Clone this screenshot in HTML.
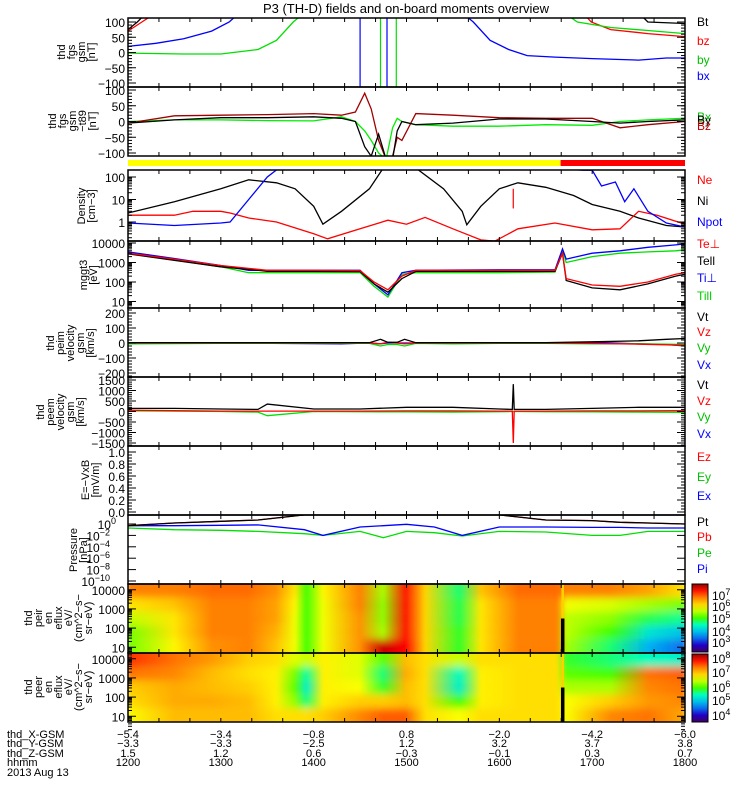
<!DOCTYPE html>
<html><head><meta charset="utf-8">
<style>
html,body{margin:0;padding:0;background:#fff;}
svg{display:block;font-family:"Liberation Sans",sans-serif;}
.tk{font-size:12px;}
.lb{font-size:12px;}
.bt{font-size:11px;}
.yt{font-size:11px;}
</style></head>
<body>
<svg id="chart" width="750" height="800" viewBox="0 0 750 800" xmlns="http://www.w3.org/2000/svg">
<defs id="defs"></defs>
<text x="406" y="13" text-anchor="middle" font-size="13">P3 (TH-D) fields and on-board moments overview</text>
<g id="marks"></g>
<g id="axes"></g>
</svg>
<script>
// ---------- data ----------
const bxT=[12,12.3,12.6,12.9,13.09,13.2];const bxV=[20,30,45,70,100,130];
const bxT2=[15.6,15.72,15.9,16.1,16.3,16.6,17.0,17.5,17.8,18];const bxV2=[130,100,40,10,-10,-15,-20,-25,-18,-18];
const bzT=[12,12.15,12.3];const bzV=[70,100,130];
const bzT2=[16.9,16.99,17.2,17.6,18];const bzV2=[130,100,75,62,52];
const byT=[12,12.6,13.0,13.4,13.6,13.78,13.9];const byV=[-2,-5,-5,10,40,100,130];
const byT2=[16.7,16.84,17.2,17.6,18];const byV2=[130,100,82,72,62];
const btT=[12,12.1,12.2];const btV=[75,100,130];
const btT2=[17.5,17.6,18];const btV2=[130,100,95];
const spikeT=[14.5,14.72,14.79,14.89];const spikeC=['#0000ff','#00e000','#0000ff','#00e000'];

const b2T=[12,12.5,13,13.5,14.0,14.3,14.45,14.55,14.62,14.7,14.78,14.85,14.9,14.95,15.1,15.5,16,16.5,17,17.3,17.6,18];
const b2Bx=[-5,5,12,12,15,10,0,-80,-110,-40,-120,-120,-30,0,-10,-5,8,8,0,-5,0,5];
const b2Bz=[-5,18,20,22,25,20,30,90,40,-60,-120,-110,-50,-60,25,20,12,10,10,-20,-10,0];
const b2By=[0,5,5,3,2,15,0,-30,-60,-100,-120,-20,10,0,-10,-15,-15,-10,-12,0,5,10];

const nT=[12,12.5,13,13.3,13.6,13.8,14.0,14.1,14.3,14.6,14.75,15.1,15.4,15.6,15.65,15.8,16,16.2,16.5,16.8,17,17.3,17.5,17.8,18];
const neV=[2.5,8,30,75,55,30,5,0.8,3,30,250,250,30,3,0.75,5,30,55,35,15,6,3,1.5,0.7,0.6];
const niT=[12,12.5,12.7,13.0,13.1,13.3,13.6,14.0,14.15,14.5,14.8,15.0,15.2,15.5,15.8,15.95,16.2,16.6,17.0,17.3,17.5,17.7,18];
const niV=[2,2,3,3,2.5,1.5,1.0,0.3,0.18,0.5,1.2,0.8,1.6,0.5,0.16,0.14,0.5,0.9,0.45,0.5,3,2,0.8];
const npT=[12,12.5,13.0,13.1,13.3,13.5,13.65];const npV=[0.9,0.7,0.9,1,10,100,300];
const npT2=[16.3,16.9,17.0,17.1,17.25,17.35,17.45,17.6,17.8,18];const npV2=[300,200,200,40,60,8,30,3,0.9,0.6];

const tT=[12,12.5,13,13.3,13.5,14.0,14.5,14.65,14.8,14.95,15.1,16.0,16.6,16.68,16.72,17.0,17.3,17.6,17.9,18];
const teP=[3000,1500,700,500,400,400,380,100,40,200,400,400,400,3000,150,70,60,100,250,300];
const teL=[2800,1300,600,450,350,350,340,80,30,150,350,350,350,3000,120,50,40,80,200,250];
const tiP=[3500,1600,700,400,400,400,400,80,22,300,400,420,420,5000,1500,3000,4000,6000,8000,9000];
const tiL=[3000,1400,600,300,300,300,300,60,17,250,300,300,320,4500,1000,2000,3000,3500,4000,4500];

const vT=[12,13,14.3,14.6,14.72,14.8,14.9,14.98,15.1,15.5,16,16.5,17,17.5,17.8,18];
const vtV=[3,2,2,2,25,5,5,25,2,3,2,2,8,15,25,30];
const vzV=[0,0,0,0,-5,5,0,-5,0,0,0,0,-3,-8,-12,-15];
const vyV=[-5,-3,-3,-3,-20,-10,-10,-20,-3,-5,-3,-3,-5,-5,-8,-10];
const vxV=[0,0,-5,0,-5,0,0,0,0,0,0,0,5,-5,-10,-20];
const pmT=[12,12.5,13,13.4,13.5,14,14.5,15,15.5,16,16.14,16.15,16.16,16.5,17,17.5,18];
const pmVt=[150,150,120,100,350,120,120,200,200,120,100,1300,100,100,150,200,200];
const pmVz=[60,40,20,20,20,20,20,30,30,20,20,-1500,20,20,30,30,40];
const pmVy=[30,20,0,-30,-200,0,-10,-20,-30,-10,0,0,0,-10,-20,-30,-40];

const prT=[12,12.5,13,13.4,13.9,14.1,14.5,14.75,15.0,15.3,15.6,16.0,16.5,17.0,17.3,17.6,18];
const prPi=[0.5,0.5,0.6,0.7,0.1,0.01,0.3,0.5,0.9,0.3,0.01,0.3,0.3,0.25,0.25,0.2,0.2];
const prPe=[0.2,0.1,0.08,0.05,0.02,0.01,0.05,0.004,0.05,0.03,0.008,0.05,0.04,0.01,0.01,0.05,0.05];
const prPt=[0.5,1.5,3,5,40,40,40,40,40,40,40,40,5,4,2,1.5,1];

const spT=[12,12.5,12.9,13.3,13.6,13.8,13.92,14.1,14.5,14.75,14.99,15.2,15.57,15.8,16.2,16.62,16.72,17.2,17.6,18];
const ionV=[[6.6,6.0,5.6,5.3,5.3],[6.6,6.2,6.0,6.0,5.9],[6.7,6.6,6.6,6.6,6.5],[6.7,6.6,6.6,6.6,6.6],[6.5,6.4,6.4,6.3,6.2],[6.0,5.9,5.8,5.8,5.8],[5.1,5.1,5.1,5.1,5.1],[5.9,5.8,5.8,5.8,5.8],[6.6,6.6,6.5,6.5,6.5],[5.5,5.4,5.4,5.5,7.4],[7.1,7.1,7.1,7.1,7.2],[6.1,6.1,6.1,6.1,6.1],[4.8,4.9,4.9,5.0,5.0],[6.2,6.0,6.0,6.0,6.0],[6.7,6.6,6.6,6.6,6.6],[6.7,6.6,6.6,6.6,6.6],[6.6,5.8,5.6,5.6,5.5],[6.6,5.7,5.4,5.1,4.8],[6.4,5.5,4.9,4.4,4.0],[6.0,5.3,4.7,4.1,3.6]];
const eleV=[[7.7,7.4,6.9,6.8,6.6],[7.4,7.3,7.1,7.1,7.0],[7.2,7.0,7.0,7.1,7.0],[6.9,6.8,6.9,7.0,7.0],[6.8,6.7,6.7,6.7,6.8],[6.5,6.1,6.0,6.2,6.8],[6.4,5.5,5.3,5.6,6.8],[6.7,6.7,6.7,6.7,6.9],[6.5,6.5,6.6,6.9,7.3],[6.0,5.6,5.8,6.9,7.5],[7.0,7.1,7.0,7.0,7.5],[6.8,6.8,6.8,6.8,6.8],[6.4,5.4,5.3,5.9,6.6],[6.8,6.7,6.7,6.7,6.8],[6.8,6.8,6.8,6.8,6.8],[6.8,6.8,6.8,6.8,6.8],[5.8,6.0,6.3,6.6,6.6],[5.6,5.9,6.3,6.9,7.3],[5.4,7.4,7.3,7.2,7.4],[5.3,7.5,7.4,7.3,7.1]];

const xLabX=['-5.4','-3.4','-0.8','0.8','-2.0','-4.2','-6.0'];
const xLabY=['-3.3','-3.3','-2.5','1.2','3.2','3.7','3.8'];
const xLabZ=['1.5','1.2','0.6','-0.3','-0.1','0.3','0.7'];
const xLabH=['1200','1300','1400','1500','1600','1700','1800'];

// ---------- helpers ----------
const NS='http://www.w3.org/2000/svg';
const marks=document.getElementById('marks'),axes=document.getElementById('axes'),defs=document.getElementById('defs');
const X0=128,X1=685;
function xOf(t){return X0+(t-12)/6*(X1-X0);}
function lin(v0,y0,v1,y1){return v=>y0+(v-v0)/(v1-v0)*(y1-y0);}
function lg(v0,y0,v1,y1){return v=>y0+(Math.log10(v)-Math.log10(v0))/(Math.log10(v1)-Math.log10(v0))*(y1-y0);}
function mk(tag,at,parent){const e=document.createElementNS(NS,tag);for(const k in at)e.setAttribute(k,at[k]);(parent||marks).appendChild(e);return e;}
let clipN=0;
function clip(y0,y1){const id='c'+(clipN++);const cp=mk('clipPath',{id:id},defs);mk('rect',{x:X0,y:y0,width:X1-X0,height:y1-y0},cp);return 'url(#'+id+')';}
function line(ts,vs,ys,color,cl,name){
  const p=mk('polyline',{points:ts.map((t,i)=>xOf(t).toFixed(1)+','+ys(vs[i]).toFixed(1)).join(' '),fill:'none',stroke:color,'stroke-width':1.3,'clip-path':cl});
  
  
}
function text(x,y,s,o){const e=mk('text',Object.assign({x:x,y:y},o||{}),axes);e.textContent=s;return e;}
const panels=[[18,87],[87,156],[170,241],[241,308],[308,377],[377,446],[446,515],[515,584],[584,653],[653,722]];
const names=['fgs-gsm-panel','fgs-gsm-t89-panel','density-panel','temperature-panel','peim-velocity-panel','peem-velocity-panel','efield-panel','pressure-panel','ion-spectrogram-panel','electron-spectrogram-panel'];

// ---------- panel 1 ----------
const y1=lin(100,22,-100,83);const c1=clip(18,87);
line(bxT,bxV,y1,'#0000ff',c1,'bx-line');line(bxT2,bxV2,y1,'#0000ff',c1,'bx-line-2');
line(bzT,bzV,y1,'#ff0000',c1,'bz-line');line(bzT2,bzV2,y1,'#ff0000',c1,'bz-line-2');
line(byT,byV,y1,'#00e000',c1,'by-line');line(byT2,byV2,y1,'#00e000',c1,'by-line-2');
line(btT,btV,y1,'#000',c1,'bt-line');line(btT2,btV2,y1,'#000',c1,'bt-line-2');
spikeT.forEach((t,i)=>{const s=mk('line',{x1:xOf(t),x2:xOf(t),y1:18,y2:87,stroke:spikeC[i],'stroke-width':1.2});
 
 });
// ---------- panel 2 ----------
const y2=lin(100,90,-100,153);const c2=clip(87,156);
line(b2T,b2By,y2,'#00ee00',c2,'by-t89-line');line(b2T,b2Bz,y2,'#a00000',c2,'bz-t89-line');line(b2T,b2Bx,y2,'#000',c2,'bx-t89-line');
// mode bar
const yb=mk('rect',{x:X0,y:160,width:xOf(16.66)-X0,height:6,fill:'#ffff00'});
const rb=mk('rect',{x:xOf(16.66),y:160,width:X1-xOf(16.66),height:6,fill:'#ff0000'});
// ---------- panel 3 ----------
const y3=lg(100,177,1,222);const c3=clip(170,241);
line(nT,neV,y3,'#000',c3,'ne-line');line(niT,niV,y3,'#ff0000',c3,'ni-line');
line(npT,npV,y3,'#0000ff',c3,'npot-line');line(npT2,npV2,y3,'#0000ff',c3,'npot-line-2');
const rs=mk('line',{x1:xOf(16.15),x2:xOf(16.15),y1:y3(30),y2:y3(4),stroke:'#ff0000','stroke-width':1.2});
// ---------- panel 4 ----------
const y4=lg(10000,243,10,301.5);const c4=clip(241,308);
line(tT,tiL,y4,'#00e000',c4,'ti-par-line');line(tT,tiP,y4,'#0000ff',c4,'ti-perp-line');line(tT,teL,y4,'#000',c4,'te-par-line');line(tT,teP,y4,'#ff0000',c4,'te-perp-line');
// ---------- panel 5 ----------
const y5=lin(200,313,-200,373);const c5=clip(308,377);
line(vT,vxV,y5,'#0000ff',c5,'vx-i-line');line(vT,vyV,y5,'#00e000',c5,'vy-i-line');line(vT,vzV,y5,'#ff0000',c5,'vz-i-line');line(vT,vtV,y5,'#000',c5,'vt-i-line');
// ---------- panel 6 ----------
const y6=lin(1500,380,-1500,443);const c6=clip(377,446);
line(pmT,pmVy,y6,'#00e000',c6,'vy-e-line');line(pmT,pmVz,y6,'#ff0000',c6,'vz-e-line');line(pmT,pmVt,y6,'#000',c6,'vt-e-line');
// ---------- panel 8 ----------
const y8=lg(1,524,1e-10,581);const c8=clip(515,584);
line(prT,prPe,y8,'#00e000',c8,'pe-line');line(prT,prPi,y8,'#0000ff',c8,'pi-line');line(prT,prPt,y8,'#ff0000',c8,'pb-line');line(prT,prPt,y8,'#000',c8,'pt-line');

// ---------- spectrograms ----------
const cmap=[[0,[64,0,96]],[0.1,[32,0,200]],[0.25,[0,160,255]],[0.4,[0,255,190]],[0.5,[64,255,0]],[0.65,[255,255,0]],[0.8,[255,128,0]],[0.92,[255,0,0]],[1,[150,0,0]]];
function col(f){f=Math.max(0,Math.min(1,f));for(let i=1;i<cmap.length;i++){if(f<=cmap[i][0]){const a=cmap[i-1],b=cmap[i],u=(f-a[0])/(b[0]-a[0]);return 'rgb('+a[1].map((c,k)=>Math.round(c+(b[1][k]-c)*u)).join(',')+')';}}return 'rgb(150,0,0)';}
let gN=0;
const blur=mk('filter',{id:'vblur',x:'-0.05',y:'-0.2',width:'1.1',height:'1.4'},defs);mk('feGaussianBlur',{stdDeviation:'1.5 4'},blur);
function spec(vals,y0,y1,lo,hi,name){
  const cl=clip(y0,y1);const outer=mk('g',{'clip-path':cl});
  
  
  const g=mk('g',{filter:'url(#vblur)'},outer);
  const nb=vals[0].length,h=(y1-y0)/nb;
  for(let b=0;b<nb;b++){
    for(let i=0;i<spT.length-1;i++){
      const id='g'+(gN++);const lgr=mk('linearGradient',{id:id},defs);
      mk('stop',{offset:0,'stop-color':col((vals[i][b]-lo)/(hi-lo))},lgr);
      mk('stop',{offset:1,'stop-color':col((vals[i+1][b]-lo)/(hi-lo))},lgr);
      const ya=b==0?y0-8:y0+b*h, yb2=b==nb-1?y1+8:y0+(b+1)*h;
      mk('rect',{x:xOf(spT[i])-0.3,y:ya,width:xOf(spT[i+1])-xOf(spT[i])+0.6,height:yb2-ya,fill:'url(#'+id+')'},g);
    }
  }
  const bar=mk('rect',{x:xOf(16.68)-1.5,y:y0+(y1-y0)*0.5,width:3.5,height:(y1-y0)*0.5,fill:'#000'},outer);
  
  
  mk('rect',{x:xOf(16.68)-1,y:y0,width:2.5,height:(y1-y0)*0.5,fill:'#ffd000'},outer);
}
spec(ionV,584,653,2.6,7.6,'ion-energy-flux-spectrogram');
spec(eleV,653,722,3.5,8.3,'electron-energy-flux-spectrogram');
// colorbars
function cbar(y0,y1,name){const id='cb'+(gN++);const lgr=mk('linearGradient',{id:id,x1:0,y1:1,x2:0,y2:0},defs);
 for(let i=0;i<=10;i++)mk('stop',{offset:i/10,'stop-color':col(i/10)},lgr);
 const r=mk('rect',{x:692,y:y0,width:16,height:y1-y0,fill:'url(#'+id+')',stroke:'#000','stroke-width':1},axes);
 }
cbar(584,652,'ion-colorbar');cbar(654,722,'electron-colorbar');
[[7,595],[6,606],[5,618],[4,631],[3,642]].forEach(a=>{const t=text(712,a[1]+5,'10',{class:'tk'});const s=mk('tspan',{dy:-5,'font-size':9},t);s.textContent=a[0];});
[[8,658],[7,672],[6,687],[5,700],[4,715]].forEach(a=>{const t=text(712,a[1]+5,'10',{class:'tk'});const s=mk('tspan',{dy:-5,'font-size':9},t);s.textContent=a[0];});

// ---------- axes frames & ticks ----------
panels.forEach((p,i)=>{const r=mk('rect',{x:X0,y:p[0],width:X1-X0,height:p[1]-p[0],fill:'none',stroke:'#000','stroke-width':1.5},axes);
 
 for(let t=12;t<=18.001;t+=1/3){const x=xOf(t);mk('line',{x1:x,x2:x,y1:p[0],y2:p[0]+4,stroke:'#000'},axes);mk('line',{x1:x,x2:x,y1:p[1],y2:p[1]-4,stroke:'#000'},axes);}
});
function yt(ys,vals,labels,minor){vals.forEach((v,i)=>{const y=ys(v);mk('line',{x1:X0,x2:X0+8,y1:y,y2:y,stroke:'#000'},axes);mk('line',{x1:X1,x2:X1-8,y1:y,y2:y,stroke:'#000'},axes);
 text(X0-3,y+5,labels[i],{class:'tk','text-anchor':'end'});});
 (minor||[]).forEach(v=>{const y=ys(v);mk('line',{x1:X0,x2:X0+4,y1:y,y2:y,stroke:'#000'},axes);mk('line',{x1:X1,x2:X1-4,y1:y,y2:y,stroke:'#000'},axes);});}
const m1=[];for(let v=-100;v<=100;v+=10)m1.push(v);
yt(y1,[100,50,0,-50,-100],['100','50','0','\u221250','\u2212100'],m1);
yt(y2,[100,50,0,-50,-100],['100','50','0','\u221250','\u2212100'],m1);
const dm=[];[0.1,1,10,100].forEach(d=>{for(let k=2;k<10;k++)dm.push(d*k);});
yt(y3,[100,10,1],['100','10','1'],dm.filter(v=>v>0.14&&v<200));
const tm=[];[1,10,100,1000].forEach(d=>{for(let k=2;k<10;k++)tm.push(d*k);});
yt(y4,[10000,1000,100,10],['10000','1000','100','10'],tm.filter(v=>v>5));
const m5=[];for(let v=-220;v<=220;v+=20)m5.push(v);
yt(y5,[200,100,0,-100,-200],['200','100','0','\u2212100','\u2212200'],m5);
const m6=[];for(let v=-1600;v<=1600;v+=100)m6.push(v);
yt(y6,[1500,1000,500,0,-500,-1000,-1500],['1500','1000','500','0','\u2212500','\u22121000','\u22121500'],m6);
const y7=lin(1,452,0,512);const m7=[];for(let v=0;v<=1.0001;v+=0.05)m7.push(v);
yt(y7,[1,0.8,0.6,0.4,0.2,0],['1.0','0.8','0.6','0.4','0.2','0.0'],m7);
[[0,1],[-2,1e-2],[-4,1e-4],[-6,1e-6],[-8,1e-8],[-10,1e-10]].forEach(a=>{const y=y8(a[1]);mk('line',{x1:X0,x2:X0+8,y1:y,y2:y,stroke:'#000'},axes);mk('line',{x1:X1,x2:X1-8,y1:y,y2:y,stroke:'#000'},axes);
 const t=text(a[0]==0?X0-12:X0-18,y+5,'10',{class:'tk','text-anchor':'end'});const s=mk('tspan',{dy:-5,'font-size':9},t);s.textContent=a[0]==0?'0':'\u2212'+(-a[0]);});
const ys9=lin(4.3,584,0.7,653),ys10=lin(4.3,653,0.7,722);
[[ys9,[4,3,2,1]],[ys10,[4,3,2,1]]].forEach(a=>{const ys=a[0];a[1].forEach(e=>{const y=ys(e);mk('line',{x1:X0,x2:X0+8,y1:y,y2:y,stroke:'#000'},axes);mk('line',{x1:X1,x2:X1-8,y1:y,y2:y,stroke:'#000'},axes);text(X0-3,y+5,String(Math.pow(10,e)),{class:'tk','text-anchor':'end'});
 for(let k=2;k<10;k++){const yy=ys(e-1+Math.log10(k));mk('line',{x1:X0,x2:X0+4,y1:yy,y2:yy,stroke:'#000'},axes);mk('line',{x1:X1,x2:X1-4,y1:yy,y2:yy,stroke:'#000'},axes);}});});

// ---------- y titles ----------
function ytitle(cx,cy,lines,name){const g=mk('g',{transform:'translate('+cx+','+cy+') rotate(-90)'},axes);
 const n=lines.length;lines.forEach((s,i)=>{const t=mk('text',{x:0,y:(i-(n-1)/2)*10+4,'text-anchor':'middle',class:'yt'},g);t.textContent=s;});}
ytitle(76,52,['thd','fgs','gsm','[nT]'],'fgs-y-title');
ytitle(72,121,['thd','fgs','gsm','\u2212t89','[nT]'],'fgs-t89-y-title');
ytitle(86,206,['Density','[cm\u22123]'],'density-y-title');
ytitle(88,275,['mggt3','[eV]'],'temperature-y-title');
ytitle(70,343,['thd','peim','velocity','gsm','[km/s]'],'peim-velocity-y-title');
ytitle(60,412,['thd','peem','velocity','gsm','[km/s]'],'peem-velocity-y-title');
ytitle(90,480,['E=\u2212VxB','[mV/m]'],'efield-y-title');
ytitle(78,550,['Pressure','[nPa]'],'pressure-y-title');
ytitle(58,618,['thd','peir','en','eflux','eV/','(cm^2\u2212s\u2212','sr\u2212eV)'],'ion-eflux-y-title');
ytitle(58,687,['thd','peer','en','eflux','eV/','(cm^2\u2212s\u2212','sr\u2212eV)'],'electron-eflux-y-title');

// ---------- legends ----------
const leg=[['Bt','#000',26],['bz','#ff0000',45],['by','#00c000',64],['bx','#0000ff',80],
['Bx','#00c000',121],['By','#000',124],['Bz','#c00000',130],
['Ne','#ff0000',184],['Ni','#000',205],['Npot','#0000ff',226],
['Te\u22a5','#ff0000',248],['Tell','#000',265],['Ti\u22a5','#0000ff',282],['Till','#00d000',300],
['Vt','#000',321],['Vz','#ff0000',336],['Vy','#00c000',352],['Vx','#0000ff',369],
['Vt','#000',389],['Vz','#ff0000',405],['Vy','#00c000',421],['Vx','#0000ff',438],
['Ez','#ff0000',461],['Ey','#00c000',481],['Ex','#0000ff',500],
['Pt','#000',526],['Pb','#ff0000',541],['Pe','#00c000',557],['Pi','#0000ff',573]];
leg.forEach(l=>{const t=text(697,l[2],l[0],{class:'lb',fill:l[1]});});

// ---------- bottom labels ----------
[['thd_X-GSM',xLabX,738],['thd_Y-GSM',xLabY,747],['thd_Z-GSM',xLabZ,757],['hhmm',xLabH,766]].forEach(r=>{
 text(7,r[2],r[0],{class:'bt'});
 r[1].forEach((s,i)=>{text(xOf(12+i),r[2],s.replace('-','\u2212'),{class:'bt','text-anchor':'middle'});});});
text(7,776,'2013 Aug 13',{class:'bt'});
</script>
</body></html>
